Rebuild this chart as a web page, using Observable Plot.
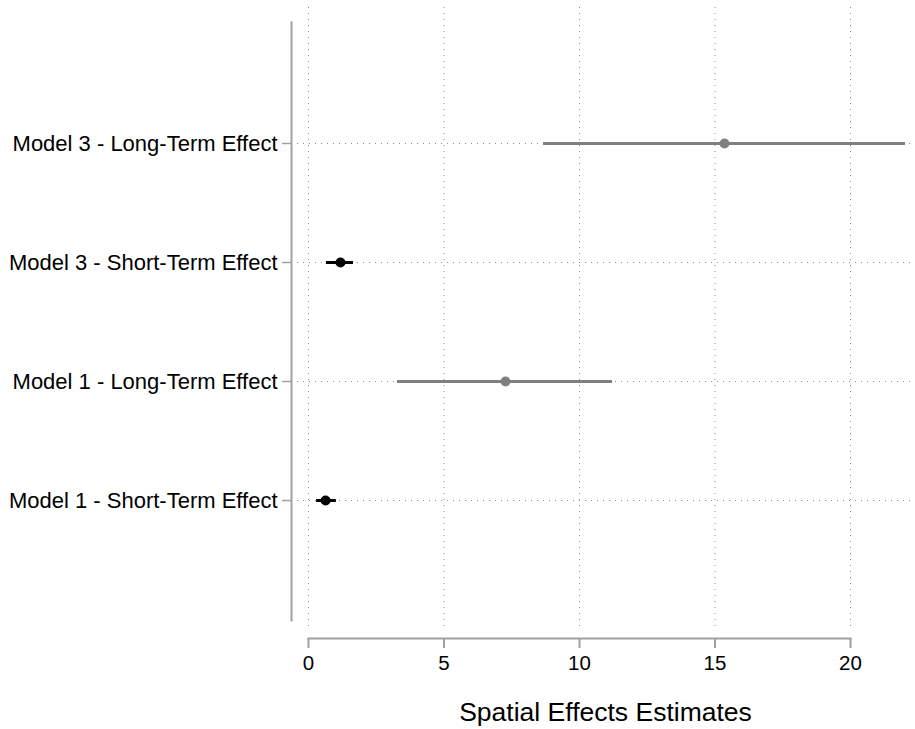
<!DOCTYPE html>
<html>
<head>
<meta charset="utf-8">
<script src="https://cdn.jsdelivr.net/npm/d3@7"></script>
<script src="https://cdn.jsdelivr.net/npm/@observablehq/plot@0.6"></script>
<style>
  html, body { margin: 0; padding: 0; background: #fff; }
  #chart { width: 915px; height: 729px; }
</style>
</head>
<body>
<div id="chart"></div>
<script>
const labels = [
  "Model 3 - Long-Term Effect",
  "Model 3 - Short-Term Effect",
  "Model 1 - Long-Term Effect",
  "Model 1 - Short-Term Effect"
];
const effectType = ["Long-Term", "Short-Term", "Long-Term", "Short-Term"];
const estimates = [15.35, 1.18, 7.27, 0.63];
const lower = [8.67, 0.66, 3.28, 0.30];
const upper = [22.03, 1.66, 11.22, 1.03];
const xTicks = [0, 5, 10, 15, 20];
const xLabel = "Spatial Effects Estimates";

const rows = labels.map((label, i) => ({
  label, type: effectType[i], est: estimates[i], lo: lower[i], hi: upper[i]
}));

const axisGray = "#a0a0a0";
const gridGray = "#8f8f8f";

const plot = Plot.plot({
  width: 915,
  height: 729,
  marginLeft: 291,
  marginRight: 0,
  marginTop: 22,
  marginBottom: 91,
  style: { fontFamily: "Liberation Sans, Arial, sans-serif", background: "#fff", color: "#000" },
  x: { domain: [0, 20], insetLeft: 17, insetRight: 65 },
  y: { type: "point", domain: labels, padding: 1, insetBottom: 18 },
  color: { type: "ordinal", domain: ["Long-Term", "Short-Term"], range: ["#808080", "#000000"] },
  marks: [
    // horizontal dotted gridlines
    Plot.ruleY(labels, { stroke: gridGray, strokeWidth: 1, strokeDasharray: "1,5" }),
    // vertical dotted gridlines
    Plot.ruleX(xTicks, { stroke: gridGray, strokeWidth: 1, strokeDasharray: "1,5", insetTop: -15, insetBottom: 7 }),
    // y axis line
    Plot.frame({ anchor: "left", stroke: axisGray, strokeWidth: 2, insetBottom: 18 }),
    // x axis line
    Plot.frame({ anchor: "bottom", stroke: axisGray, strokeWidth: 2, insetLeft: 17, insetRight: 65 }),
    Plot.axisX(xTicks, {
      tickSize: 10, tickPadding: 7, fontSize: 20.5, stroke: axisGray, strokeWidth: 2, fill: "#000", label: null
    }),
    Plot.axisY({
      tickSize: 9, tickPadding: 5, fontSize: 22, stroke: axisGray, strokeWidth: 1.5, fill: "#000", label: null
    }),
    // confidence intervals
    Plot.ruleY(rows, { y: "label", x1: "lo", x2: "hi", stroke: "type", strokeWidth: 3 }),
    // point estimates
    Plot.dot(rows, { y: "label", x: "est", fill: "type", r: 5, stroke: null }),
    // x-axis title
    Plot.text([xLabel], { frameAnchor: "bottom", lineAnchor: "middle", dx: 2, dy: 74, fontSize: 26.5, fill: "#000" })
  ]
});

document.getElementById("chart").appendChild(plot);
</script>
</body>
</html>
